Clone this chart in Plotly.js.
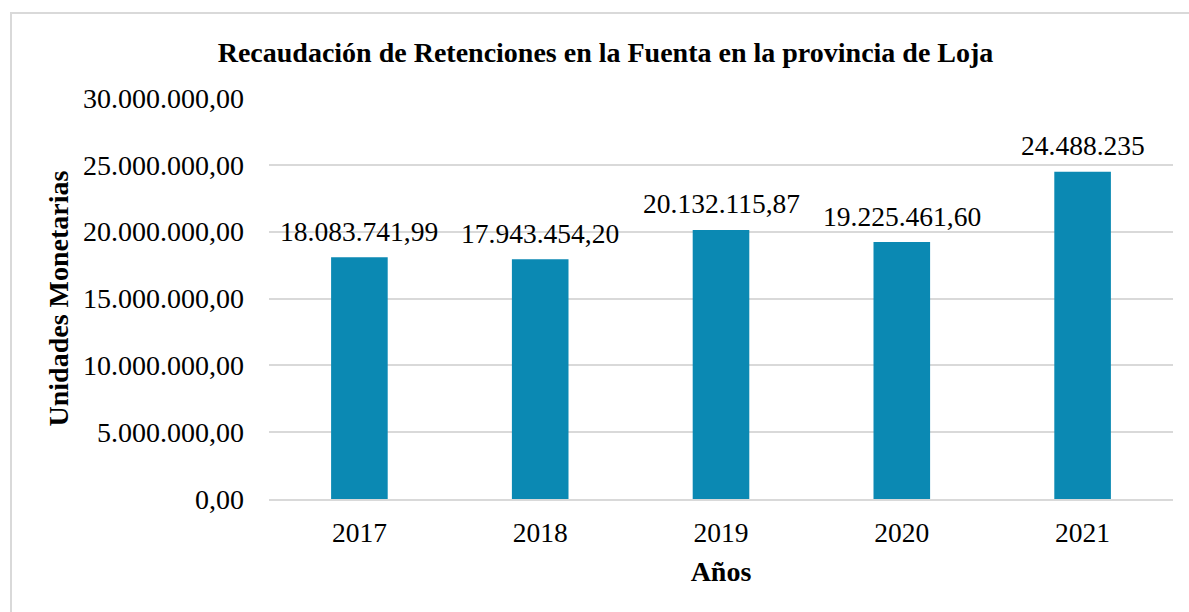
<!DOCTYPE html>
<html>
<head>
<meta charset="utf-8">
<script src="https://cdn.plot.ly/plotly-3.0.1.min.js"></script>
<style>html,body{margin:0;padding:0;background:#fff;}#chart{width:1189px;height:612px;}</style>
</head>
<body>
<div id="chart"></div>
<script>
const years = ['2017', '2018', '2019', '2020', '2021'];
const values = [18083741.99, 17943454.20, 20132115.87, 19225461.60, 24488235];
const labels = ['18.083.741,99', '17.943.454,20', '20.132.115,87', '19.225.461,60', '24.488.235'];

const W = 1189, H = 612;
const ml = 269, mr = 16, mt = 98, mb = 113;
const pw = W - ml - mr, ph = H - mt - mb;
const px = x => (x - ml) / pw;
const py = y => (H - mb - y) / ph;

const font = 'Liberation Serif, Times New Roman, serif';

// data labels placed at each category index on the category axis
const labelAnnotations = years.map((yr, i) => ({
  xref: 'x', yref: 'y', x: i, y: values[i],
  text: labels[i], showarrow: false,
  yanchor: 'middle', xanchor: 'center', yshift: 26,
  font: {family: font, size: 27.5, color: '#000'}
}));

Plotly.newPlot('chart', [{
  type: 'bar',
  x: years,
  y: values,
  marker: {color: '#0b89b3'},
  width: 0.313,
  hoverinfo: 'x+y'
}], {
  width: W, height: H,
  margin: {l: ml, r: mr, t: mt, b: mb, pad: 0},
  paper_bgcolor: '#fff', plot_bgcolor: '#fff',
  separators: ',.',
  showlegend: false,
  font: {family: font, color: '#000'},
  title: {
    text: '<b>Recaudación de Retenciones en la Fuenta en la provincia de Loja</b>',
    font: {family: font, size: 28, color: '#000'},
    x: 605.5 / W, xanchor: 'center', y: 1 - 52 / H, yanchor: 'middle'
  },
  xaxis: {
    type: 'category',
    categoryarray: years, categoryorder: 'array',
    range: [-0.5, years.length - 0.5], autorange: false,
    tickfont: {family: font, size: 27.5, color: '#000'},
    showgrid: false,
    showline: true, linecolor: '#d9d9d9', linewidth: 2,
    ticks: '', ticklabelstandoff: 8,
    title: {text: '<b>Años</b>', font: {family: font, size: 28, color: '#000'}, standoff: 14},
    fixedrange: true
  },
  yaxis: {
    range: [0, 30000000], autorange: false,
    dtick: 5000000,
    tickformat: ',.2f',
    tickfont: {family: font, size: 28, color: '#000'},
    showgrid: true, gridcolor: '#d9d9d9', gridwidth: 2,
    zeroline: false,
    ticks: '', ticklabelstandoff: 24,
    title: {text: '<b>Unidades Monetarias</b>', font: {family: font, size: 28, color: '#000'}, standoff: 6},
    fixedrange: true
  },
  bargap: 0.687,
  annotations: labelAnnotations,
  shapes: [
    {type: 'line', xref: 'paper', yref: 'paper', x0: px(11), x1: px(11), y0: py(12), y1: py(H + 5), line: {color: '#d9d9d9', width: 2}, layer: 'below'},
    {type: 'line', xref: 'paper', yref: 'paper', x0: px(10), x1: px(W + 5), y0: py(13), y1: py(13), line: {color: '#d9d9d9', width: 2}, layer: 'below'}
  ]
}, {staticPlot: true, displayModeBar: false});
</script>
</body>
</html>
